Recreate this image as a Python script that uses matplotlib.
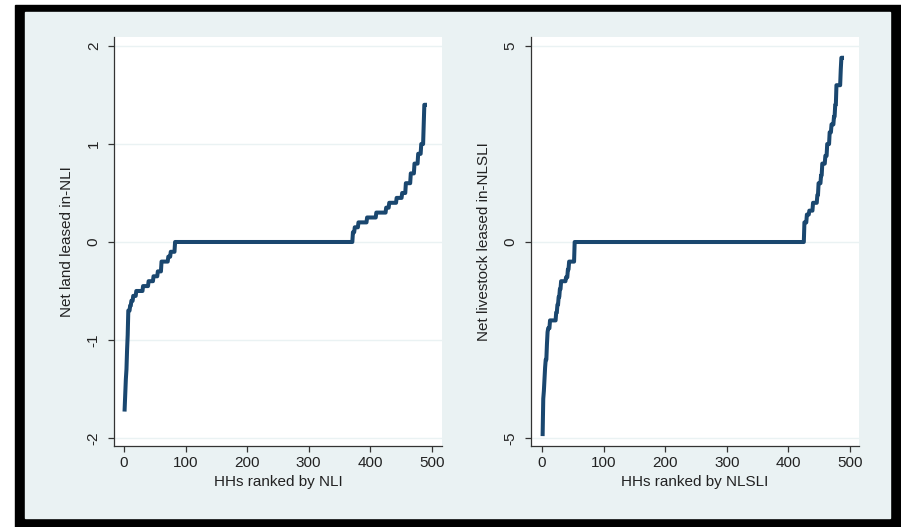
import numpy as np
import matplotlib
matplotlib.use('Agg')
import matplotlib.pyplot as plt
from matplotlib.patches import Rectangle

# step values of the sorted series and how many households sit on each step
nli_values = [-1.71, -1.55, -1.4, -1.3, -1.1, -0.95, -0.7, -0.65, -0.6, -0.55,
              -0.5, -0.45, -0.4, -0.35, -0.3, -0.2, -0.15, -0.1, 0.0,
              0.1, 0.15, 0.2, 0.25, 0.3, 0.35, 0.4, 0.45, 0.5, 0.6, 0.7,
              0.8, 0.9, 1.0, 1.2, 1.4]
nli_counts = [1, 1, 1, 1, 1, 1, 3, 2, 3, 5,
              11, 9, 8, 7, 6, 11, 4, 7, 289,
              3, 6, 14, 15, 16, 5, 12, 9, 6, 8, 6,
              6, 5, 4, 1, 2]

nlsli_values = [-4.9, -4.0, -3.8, -3.5, -3.2, -3.0, -2.6, -2.3, -2.2, -2.0,
                -1.8, -1.6, -1.4, -1.2, -1.0, -0.9, -0.7, -0.5, 0.0,
                0.5, 0.7, 0.8, 1.0, 1.2, 1.5, 1.7, 2.0, 2.2, 2.5, 2.8,
                3.0, 3.2, 3.5, 4.0, 4.4, 4.7]
nlsli_counts = [1, 1, 1, 1, 1, 2, 1, 1, 3, 10,
                2, 2, 2, 2, 8, 3, 2, 9, 373,
                4, 4, 6, 7, 2, 4, 2, 5, 3, 4, 3,
                4, 2, 2, 7, 1, 2]

panels = [
    (nli_values, nli_counts, 'Net land leased in-NLI', 'HHs ranked by NLI',
     [-2, -1, 0, 1, 2], (-2.082, 2.092), (-16.25, 516.7)),
    (nlsli_values, nlsli_counts, 'Net livestock leased in-NLSLI', 'HHs ranked by NLSLI',
     [-5, 0, 5], (-5.204, 5.23), (-17.9, 514.6)),
]

W, H = 901, 527
bg = '#EAF2F3'
navy = '#1A476F'

plt.rcParams['font.family'] = ['Liberation Sans', 'DejaVu Sans']
plt.rcParams['axes.unicode_minus'] = False
fig = plt.figure(figsize=(W / 100, H / 100), dpi=100, facecolor='white')

# black frame and bluish-gray graph region
fig.add_artist(Rectangle((15 / W, 0), 1 - 15 / W, (H - 5) / H,
                         transform=fig.transFigure, color='black', zorder=-20))
fig.add_artist(Rectangle((25 / W, (H - 518) / H), (890 - 25) / W, (518 - 12) / H,
                         transform=fig.transFigure, color=bg, zorder=-10))

lefts = [114, 531]
for (vals, counts, ylab, xlab, yticks, ylim, xlim), x0 in zip(panels, lefts):
    ax = fig.add_axes([x0 / W, (H - 446) / H, 328 / W, 409 / H])
    ax.set_facecolor('white')
    y = np.repeat(vals, counts)
    rank = np.arange(1, len(y) + 1)
    ax.plot(rank, y, color=navy, linewidth=2.9, solid_joinstyle='round')
    ax.set_xlim(*xlim)
    ax.set_ylim(*ylim)
    ax.set_xticks([0, 100, 200, 300, 400, 500])
    ax.set_yticks(yticks)
    ax.grid(axis='y', color=bg, linewidth=1.0)
    ax.set_axisbelow(True)
    for s in ['top', 'right']:
        ax.spines[s].set_visible(False)
    for s in ['left', 'bottom']:
        ax.spines[s].set_color('#333333')
        ax.spines[s].set_linewidth(0.9)
    ax.tick_params(axis='both', direction='out', length=4.5, width=0.9,
                   color='#333333', labelsize=11, labelcolor='#222222')
    ax.tick_params(axis='y', pad=5)
    ax.tick_params(axis='x', pad=3)
    for lab in ax.get_yticklabels():
        lab.set_rotation(90)
        lab.set_va('center')
        lab.set_ha('right')
    ax.set_ylabel(ylab, fontsize=11, color='#222222')
    ax.set_xlabel(xlab, fontsize=11, color='#222222')
    ax.yaxis.set_label_coords(-0.122, 0.5)
    ax.xaxis.set_label_coords(0.5, -0.071)

fig.savefig('out.png', dpi=100, facecolor='white')
